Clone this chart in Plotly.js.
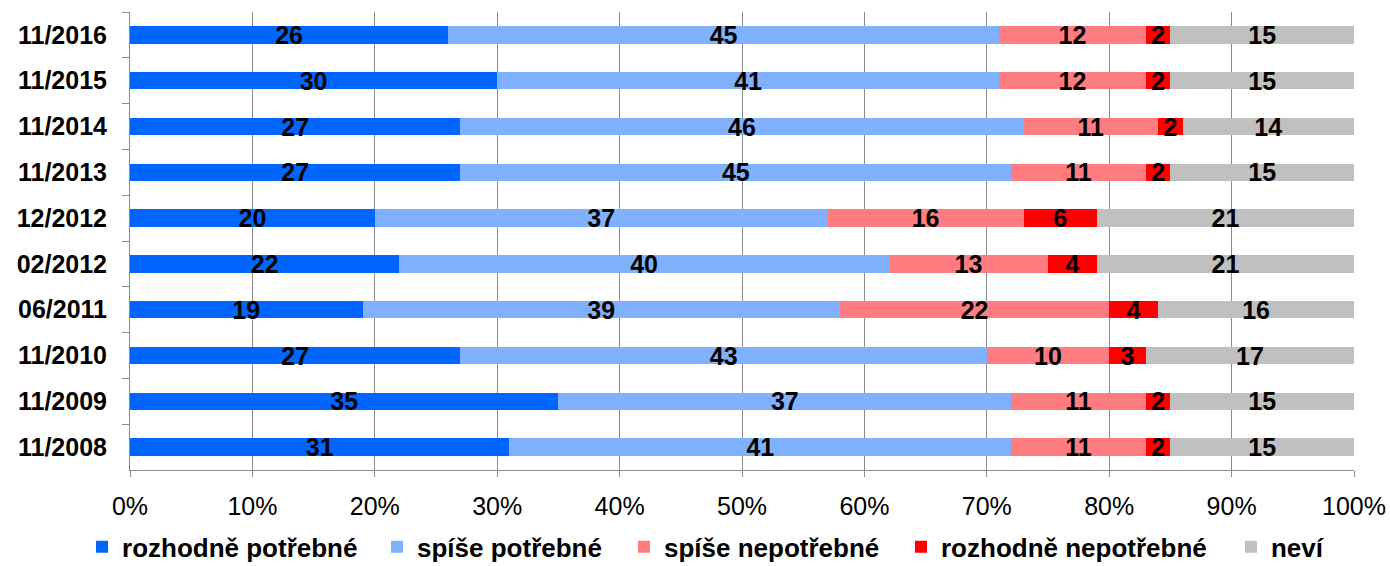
<!DOCTYPE html>
<html>
<head>
<meta charset="utf-8">
<script src="https://cdn.plot.ly/plotly-3.0.1.min.js"></script>
<style>html,body{margin:0;padding:0;background:#fff;}#chart{width:1390px;height:566px;}</style>
</head>
<body>
<div id="chart"></div>
<script>
const categories = ["11/2016","11/2015","11/2014","11/2013","12/2012","02/2012","06/2011","11/2010","11/2009","11/2008"];
const seriesNames = ["rozhodně potřebné","spíše potřebné","spíše nepotřebné","rozhodně nepotřebné","neví"];
const rozhodnePotrebne   = [26,30,27,27,20,22,19,27,35,31];
const spisePotrebne      = [45,41,46,45,37,40,39,43,37,41];
const spiseNepotrebne    = [12,12,11,11,16,13,22,10,11,11];
const rozhodneNepotrebne = [2,2,2,2,6,4,4,3,2,2];
const nevi               = [15,15,14,15,21,21,16,17,15,15];
const tickValues = [0,10,20,30,40,50,60,70,80,90,100];
const tickLabels = ["0%","10%","20%","30%","40%","50%","60%","70%","80%","90%","100%"];

const colors = ["#0066FF","#80B1FF","#FF7C80","#FF0000","#C0C0C0"];
const seriesValues = [rozhodnePotrebne, spisePotrebne, spiseNepotrebne, rozhodneNepotrebne, nevi];
const FONT = "Liberation Sans, Arial, sans-serif";
const legendIds = ["legend","legend2","legend3","legend4","legend5"];
const legendX = [-0.0392, 0.2018, 0.4036, 0.6299, 0.8995];

const traces = seriesValues.map((vals, i) => ({
  type: "bar",
  orientation: "h",
  name: seriesNames[i],
  legend: legendIds[i],
  y: categories,
  x: vals,
  marker: {color: colors[i], line: {width: 0}},
  text: vals.map(String),
  texttemplate: "%{text}",
  textposition: "inside",
  insidetextanchor: "middle",
  constraintext: "none",
  textangle: 0,
  insidetextfont: {family: FONT, size: 25, color: "#000", weight: 700},
  hoverinfo: "x+y+name",
  cliponaxis: false
}));

const layout = {
  width: 1390,
  height: 566,
  margin: {l: 130, r: 36, t: 12, b: 96, autoexpand: false},
  paper_bgcolor: "#fff",
  plot_bgcolor: "#fff",
  barmode: "stack",
  bargap: 0.62,
  showlegend: true,
  xaxis: {
    range: [0, 100],
    tickvals: tickValues,
    ticktext: tickLabels,
    showgrid: true,
    gridcolor: "#8c8c8c",
    gridwidth: 1,
    showline: true,
    linecolor: "#8c8c8c",
    linewidth: 1,
    zeroline: false,
    ticks: "outside",
    ticklen: 6,
    tickcolor: "#8c8c8c",
    ticklabelstandoff: 8,
    tickfont: {family: FONT, size: 25, color: "#000"},
    fixedrange: true
  },
  yaxis: {
    type: "category",
    autorange: "reversed",
    showgrid: false,
    showline: true,
    linecolor: "#8c8c8c",
    linewidth: 1,
    zeroline: false,
    ticks: "outside",
    tickson: "boundaries",
    ticklen: 7,
    tickcolor: "#8c8c8c",
    ticklabelstandoff: 17,
    tickfont: {family: FONT, size: 25, color: "#000", weight: 700},
    fixedrange: true
  },
  font: {family: FONT, color: "#000"}
};
legendIds.forEach((id, i) => {
  layout[id] = {
    orientation: "h",
    x: legendX[i], xanchor: "left",
    y: -0.168, yanchor: "middle",
    font: {family: FONT, size: 26, color: "#000", weight: 700},
    bgcolor: "rgba(0,0,0,0)",
    borderwidth: 0,
    itemwidth: 30
  };
});

Plotly.newPlot("chart", traces, layout, {displayModeBar: false, staticPlot: true});
</script>
</body>
</html>
